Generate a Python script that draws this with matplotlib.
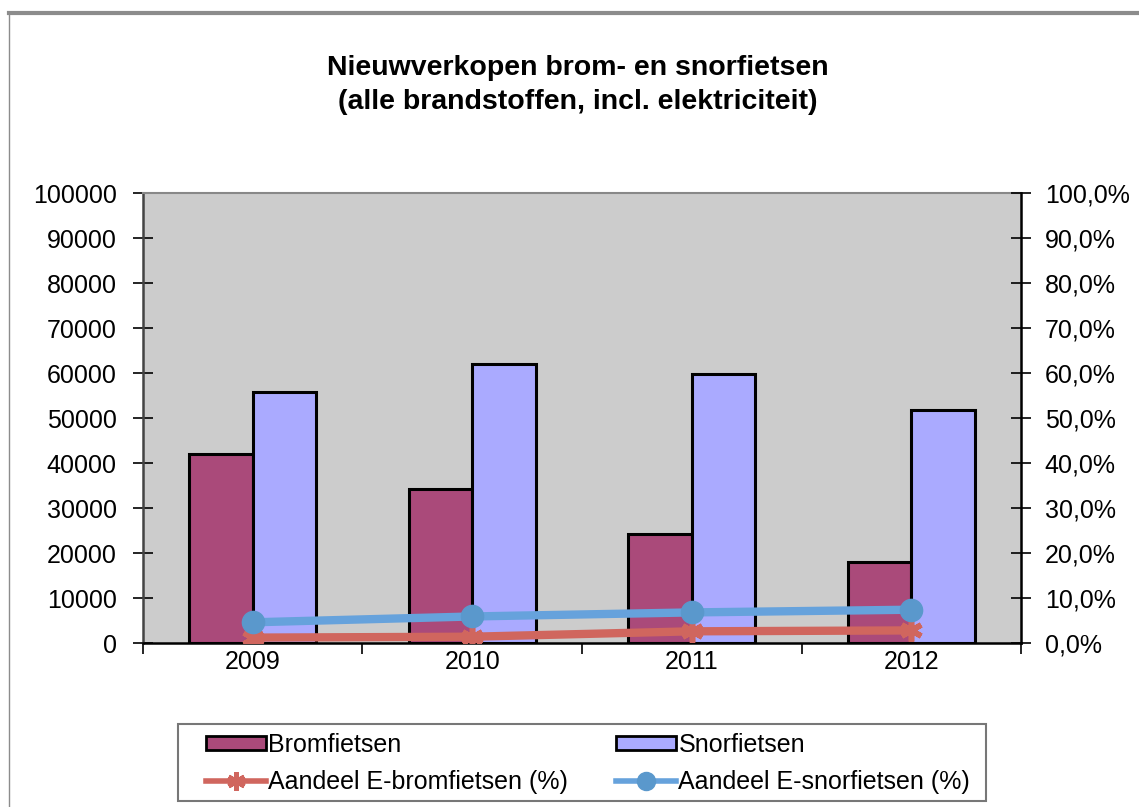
import matplotlib
matplotlib.use("Agg")
import matplotlib.pyplot as plt
from matplotlib.lines import Line2D
import numpy as np

# data
jaren = ["2009", "2010", "2011", "2012"]
bromfietsen = [42000, 34200, 24200, 18000]
snorfietsen = [55700, 61900, 59800, 51800]
e_brom_pct = [1.2, 1.4, 2.6, 2.8]
e_snor_pct = [4.6, 5.9, 6.8, 7.4]

plt.rcParams['font.family'] = ['Liberation Sans', 'DejaVu Sans']

fig = plt.figure(figsize=(11.39, 8.07), dpi=100)
ax = fig.add_axes([0.1255, 0.2032, 0.7710, 0.5576])
ax.set_facecolor('#cccccc')

x = np.arange(len(jaren))
w = 0.29
ax.bar(x - w / 2, bromfietsen, w, color='#aa4a7a', edgecolor='black', linewidth=2.2,
       label='Bromfietsen', zorder=2)
ax.bar(x + w / 2, snorfietsen, w, color='#aaaaff', edgecolor='black', linewidth=2.2,
       label='Snorfietsen', zorder=2)

ax.set_xlim(-0.5, len(jaren) - 0.5)
ax.set_ylim(0, 100000)
ax.set_yticks(np.arange(0, 100001, 10000))
ax.set_yticklabels([str(v) for v in range(0, 100001, 10000)], fontsize=18)
ax.tick_params(axis='y', direction='inout', length=14, width=1.2, pad=12)

# category boundaries as major ticks, labels at the centres
ax.set_xticks(np.arange(-0.5, len(jaren), 1.0))
ax.set_xticklabels([])
ax.set_xticks(x, minor=True)
ax.set_xticklabels(jaren, minor=True, fontsize=18)
ax.tick_params(axis='x', which='major', direction='out', length=8, width=1.2)
ax.tick_params(axis='x', which='minor', length=0, pad=5)

for s in ['left', 'bottom']:
    ax.spines[s].set_linewidth(1.8)
ax.spines['left'].set_color('#444444')
ax.spines['top'].set_color('#888888')
ax.spines['top'].set_linewidth(1.5)
ax.spines['right'].set_visible(False)

ax2 = ax.twinx()
ax2.plot(x, e_brom_pct, color='#d0665e', linewidth=6, marker=(6, 2, 0), markersize=16,
         markeredgewidth=4, markeredgecolor='#d0665e', solid_capstyle='butt', zorder=3)
ax2.plot(x, e_snor_pct, color='#66a2dc', linewidth=6, marker='o', markersize=16,
         markerfacecolor='#5a98cc', markeredgecolor='#5a98cc', zorder=4)
ax2.set_ylim(0, 100)
ax2.set_yticks(np.arange(0, 101, 10))
ax2.set_yticklabels([f"{v},0%" for v in range(0, 101, 10)], fontsize=18)
ax2.tick_params(axis='y', direction='inout', length=14, width=1.2, pad=10)
ax2.spines['right'].set_linewidth(1.8)
ax2.spines['right'].set_color('black')
for s in ['left', 'top', 'bottom']:
    ax2.spines[s].set_visible(False)

fig.text(0.507, 0.895, "Nieuwverkopen brom- en snorfietsen\n(alle brandstoffen, incl. elektriciteit)",
         ha='center', va='center', fontsize=20.5, fontweight='bold', linespacing=1.4)

# legend
h_brom = plt.Rectangle((0, 0), 1, 1, facecolor='#aa4a7a', edgecolor='black', linewidth=2)
h_snor = plt.Rectangle((0, 0), 1, 1, facecolor='#aaaaff', edgecolor='black', linewidth=2)
h_ebrom = Line2D([], [], color='#d0665e', linewidth=4, marker=(6, 2, 0), markersize=13,
                 markeredgewidth=3.5, markeredgecolor='#d0665e')
h_esnor = Line2D([], [], color='#66a2dc', linewidth=4, marker='o', markersize=13,
                 markerfacecolor='#5a98cc', markeredgecolor='#5a98cc')
leg = fig.legend([h_brom, h_ebrom, h_snor, h_esnor],
                 ['Bromfietsen', 'Aandeel E-bromfietsen (%)', 'Snorfietsen', 'Aandeel E-snorfietsen (%)'],
                 ncol=2, loc='upper left', bbox_to_anchor=(206 / 1139, 1 - 733 / 807),
                 fontsize=18, frameon=False, borderpad=0, borderaxespad=0,
                 handlelength=2.4, handleheight=0.5, handletextpad=0.1,
                 labelspacing=0.5, columnspacing=1.9)

# legend frame
fig.add_artist(plt.Rectangle((178 / 1139, 1 - 801 / 807), (986 - 178) / 1139, (801 - 724) / 807,
                             transform=fig.transFigure, fill=False, edgecolor='#777777',
                             linewidth=1.5))

# chart frame (cut off at right and bottom)
fig.add_artist(Line2D([0.008, 1.0], [0.984, 0.984], transform=fig.transFigure,
                      color='#8c8c8c', linewidth=3))
fig.add_artist(Line2D([0.008, 0.008], [0.0, 0.984], transform=fig.transFigure,
                      color='#8c8c8c', linewidth=1))

fig.savefig("out.png", dpi=100)
